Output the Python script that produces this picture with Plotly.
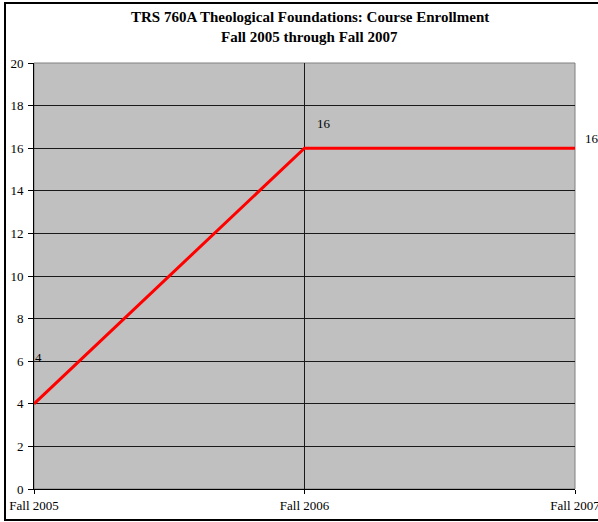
import plotly.graph_objects as go

# Course enrollment by term
terms = ["Fall 2005", "Fall 2006", "Fall 2007"]
enrollment = [4, 16, 16]
y_ticks = list(range(0, 21, 2))

# label offsets (px) for each data label
label_dx = [4, 19, 17]
label_dy = [46, 25, 10]

title_lines = [
    "TRS 760A Theological Foundations: Course Enrollment",
    "Fall 2005 through Fall 2007",
]

serif = "Liberation Serif, Times New Roman, serif"

fig = go.Figure()
fig.add_trace(go.Scatter(
    x=terms, y=enrollment, mode="lines",
    line=dict(color="#FF0000", width=3),
    hoverinfo="skip", cliponaxis=False,
))

for t, v, dx, dy in zip(terms, enrollment, label_dx, label_dy):
    fig.add_annotation(
        x=t, y=v, text=str(v), showarrow=False,
        xshift=dx, yshift=dy, xanchor="center", yanchor="middle",
        font=dict(family=serif, size=13, color="#000000"),
    )

# two-line bold title
for text, ypos in zip(title_lines, [1.108, 1.061]):
    fig.add_annotation(
        xref="paper", yref="paper", x=0.51, y=ypos, text=f"<b>{text}</b>",
        showarrow=False, xanchor="center", yanchor="middle",
        font=dict(family=serif, size=15, color="#000000"),
    )

# plot-area border (grey), drawn above the grid
fig.add_shape(type="rect", xref="paper", yref="paper", x0=0, x1=1, y0=0, y1=1,
              line=dict(color="#808080", width=1), layer="between")

# outer chart frame
fig.add_shape(type="rect", xref="paper", yref="paper",
              x0=-0.0536, x1=1.07, y0=-0.0728, y1=1.1408,
              line=dict(color="#000000", width=2), layer="above")

fig.update_layout(
    width=598, height=522,
    margin=dict(l=34, r=23, t=63, b=33, autoexpand=False),
    paper_bgcolor="#FFFFFF", plot_bgcolor="#C0C0C0",
    showlegend=False,
)

fig.update_xaxes(
    type="category", range=[0, 2], automargin=False,
    showgrid=True, gridcolor="#1a1a1a", gridwidth=1,
    showline=True, linecolor="#000000", linewidth=1,
    ticks="outside", ticklen=4, tickcolor="#000000",
    tickfont=dict(family=serif, size=13, color="#000000"),
    zeroline=False, fixedrange=True,
)
fig.update_yaxes(
    range=[0, 20], tickvals=y_ticks, automargin=False,
    showgrid=True, gridcolor="#1a1a1a", gridwidth=1,
    showline=True, linecolor="#000000", linewidth=1,
    ticks="outside", ticklen=5, tickcolor="#000000", ticklabelstandoff=2,
    tickfont=dict(family=serif, size=13, color="#000000"),
    zeroline=False, fixedrange=True,
)

fig.write_html("out.html")
